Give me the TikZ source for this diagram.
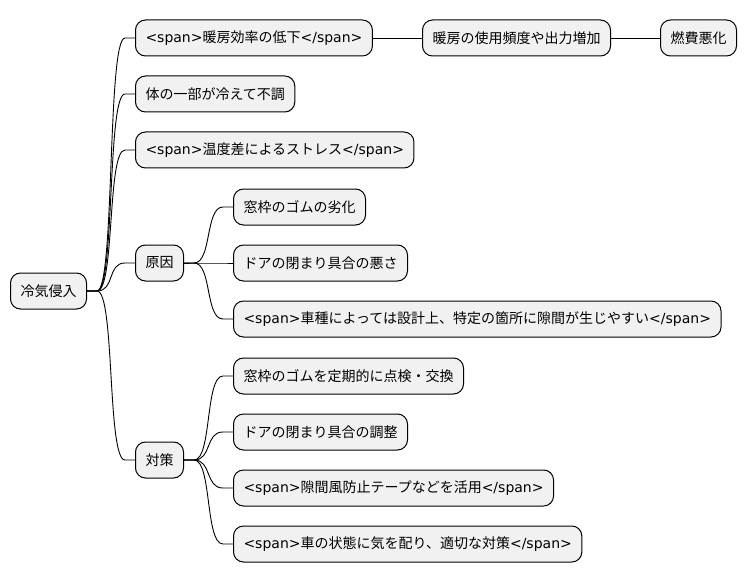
\documentclass[tikz,border=0pt]{standalone}
\usepackage{fontspec}
\setmainfont{DejaVu Sans}
\newfontfamily\cjk{Noto Sans CJK JP}
\XeTeXinterchartokenstate=1
\newXeTeXintercharclass\CJKclass
\count255="3000
\loop\XeTeXcharclass\count255=\CJKclass\ifnum\count255<"30FF\advance\count255 by 1\repeat
\count255="4E00
\loop\XeTeXcharclass\count255=\CJKclass\ifnum\count255<"9FFF\advance\count255 by 1\repeat
\count255="FF00
\loop\XeTeXcharclass\count255=\CJKclass\ifnum\count255<"FFEF\advance\count255 by 1\repeat
\XeTeXinterchartoks 0 \CJKclass = {\begingroup\cjk}
\XeTeXinterchartoks 4095 \CJKclass = {\begingroup\cjk}
\XeTeXinterchartoks \CJKclass 0 = {\endgroup}
\XeTeXinterchartoks \CJKclass 4095 = {\endgroup}
\usetikzlibrary{calc}
\definecolor{boxgray}{HTML}{F1F1F1}
\begin{document}
\begin{tikzpicture}[
      x=1pt, y=-1pt,
      every node/.style={draw, fill=boxgray, rounded corners=10pt, line width=1pt,
        minimum height=36pt, inner xsep=10pt, anchor=west, font=\fontsize{14}{16}\selectfont},
      branch/.style={line width=0.9pt}
    ]
    \useasboundingbox (0,0) rectangle (747,583);

    \node (root) at (10,291) {冷気侵入};
    \node (heat) at (135,38) {<span>暖房効率の低下</span>};
    \node (use) at (422,38) {暖房の使用頻度や出力増加};
    \node (fuel) at (660,38) {燃費悪化};
    \node (body) at (135,94) {体の一部が冷えて不調};
    \node (stress) at (135,150) {<span>温度差によるストレス</span>};
    \node (cause) at (135,263) {原因};
    \node (rubber) at (233,207) {窓枠のゴムの劣化};
    \node (door) at (233,263) {ドアの閉まり具合の悪さ};
    \node (model) at (233,319) {<span>車種によっては設計上、特定の箇所に隙間が生じやすい</span>};
    \node (plan) at (135,460) {対策};
    \node (check) at (233,376) {窓枠のゴムを定期的に点検・交換};
    \node (adjust) at (233,432) {ドアの閉まり具合の調整};
    \node (tape) at (233,488) {<span>隙間風防止テープなどを活用</span>};
    \node (care) at (233,544) {<span>車の状態に気を配り、適切な対策</span>};

    \foreach \p/\c in {root/heat, root/body, root/stress, root/cause, root/plan,
        cause/rubber, cause/door, cause/model,
        plan/check, plan/adjust, plan/tape, plan/care}
      \draw[branch] (\p.east) -- ++(10,0) .. controls +(18,0) and +(-18,0) .. ($(\c.west)+(-10,0)$) -- (\c.west);
    \draw[branch] (heat) -- (use) -- (fuel);

    \end{tikzpicture}
\end{document}
